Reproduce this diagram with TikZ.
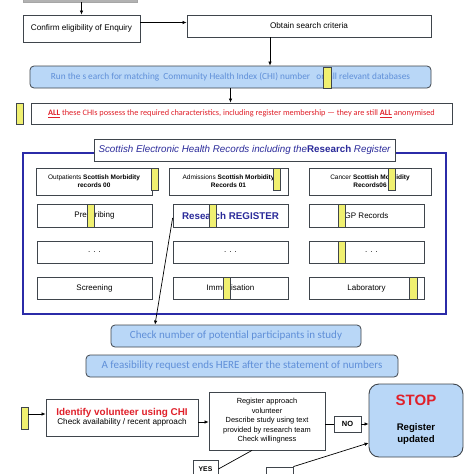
\documentclass[tikz,border=0pt]{standalone}
\usepackage{fontspec}
\setmainfont{Liberation Sans}
\newfontfamily\carl{Carlito}
\usetikzlibrary{arrows.meta}
\definecolor{boxline}{HTML}{3F454C}
\definecolor{lblue}{HTML}{B9D7F7}
\definecolor{tblue}{HTML}{5F8FD8}
\definecolor{fred}{HTML}{E0202A}
\definecolor{yel}{HTML}{F0F070}
\definecolor{frblue}{HTML}{2B2BA8}
\definecolor{tdblue}{HTML}{2A2A9A}
\tikzset{
  box/.style={draw=boxline, line width=0.8pt, fill=white, inner sep=1pt, align=center, font=\fontsize{8.2}{9.5}\selectfont},
  rbox/.style={draw=boxline, line width=0.8pt, fill=lblue, rounded corners=4pt, inner sep=1pt, align=center, text=tblue, font=\carl\fontsize{11}{12}\selectfont},
  cell/.style={draw=boxline, line width=0.8pt, fill=white, inner sep=1pt, align=center, font=\fontsize{8}{9.5}\selectfont},
  ymark/.style={draw=boxline, line width=0.7pt, fill=yel, inner sep=0pt, minimum width=7pt},
  arr/.style={draw=black, line width=0.7pt, -{Latex[length=4pt,width=3.5pt]}},
  ln/.style={draw=black, line width=0.7pt},
}
\begin{document}
\begin{tikzpicture}[x=1pt,y=-1pt]
\useasboundingbox (0,0) rectangle (474,474);
\clip (0,0) rectangle (474,474);
\fill[white] (0,0) rectangle (474,474);
% top section
\node[draw=gray!70, fill=gray!60, minimum width=114pt, minimum height=12pt] (top) at (80,-4) {};
\node[box, minimum width=117pt, minimum height=27pt] (confirm) at (81.5,28.5) {Confirm eligibility of Enquiry};
\node[box, minimum width=244pt, minimum height=22pt] (obtain) at (309,26) {Obtain search criteria};
\draw[arr] (top.south -| confirm.north) -- (confirm.north);
\coordinate (c1) at ([yshift=6pt]confirm.east);
\draw[arr] (c1) -- (c1 -| obtain.west);
\node[rbox, minimum width=401pt, minimum height=22pt, font=\carl\fontsize{9.3}{10}\selectfont] (run) at (230.5,77) {Run the s earch for matching\ \ Community Health Index (CHI) number\ \ \ on all relevant databases};
\node[ymark, minimum width=8pt, minimum height=21pt] (y0) at (327,77.5) {};
\coordinate (c2) at ([xshift=-39pt]obtain.south);
\draw[arr] (c2) -- (c2 |- run.north);
\node[box, minimum width=421pt, minimum height=21pt, text=fred, font=\carl\fontsize{8.3}{9}\selectfont] (all) at (241.5,113.5) {\textbf{\underline{ALL}} these CHIs possess the required characteristics, including register membership — they are still \textbf{\underline{ALL}} anonymised};
\node[ymark, minimum height=21pt] (y1) at (19.5,113.5) {};
\draw[arr] (run.south) -- (run.south |- all.north);
% frame
\node[draw=frblue, line width=1.3pt, minimum width=423pt, minimum height=161pt] (frame) at (234.5,233.5) {};
\node[box, minimum width=301pt, minimum height=22pt, text=tdblue, font=\fontsize{9.8}{11}\selectfont] (title) at (244.5,150) {\itshape Scottish Electronic Health Records including the\textbf{\upshape Research}\itshape\ Register};
% row 1
\node[cell, minimum width=116pt, minimum height=27pt, font=\fontsize{6.5}{8}\selectfont] (a1) at (94,181.5) {Outpatients \textbf{Scottish Morbidity}\\\textbf{records 00}};
\node[cell, minimum width=119pt, minimum height=27pt, font=\fontsize{6.5}{8}\selectfont] (b1) at (228.5,181.5) {Admissions \textbf{Scottish Morbidity}\\\textbf{Records 01}};
\node[cell, minimum width=122pt, minimum height=27pt, font=\fontsize{6.5}{8}\selectfont] (c1b) at (370,181.5) {Cancer \textbf{Scottish Morbidity}\\\textbf{Records06}};
\node[ymark, minimum height=22pt] (ya1) at (155,179) {};
\node[ymark, minimum height=22pt] (yb1) at (276.5,179) {};
\node[ymark, minimum height=22pt] (yc1) at (391.5,179) {};
% row 2
\node[cell, minimum width=115pt, minimum height=23pt] (a2) at (94.5,215.5) {Prescribing};
\node[cell, minimum width=115pt, minimum height=23pt, text=tdblue, font=\bfseries\fontsize{9.8}{11}\selectfont] (reg) at (230.5,215.5) {Research REGISTER};
\node[cell, minimum width=115pt, minimum height=23pt] (c2b) at (366.5,215.5) {GP Records};
\node[ymark, minimum height=23pt] (ya2) at (90.5,215.5) {};
\node[ymark, minimum height=23pt] (yb2) at (212.5,215.5) {};
\node[ymark, minimum height=23pt] (yc2) at (341.5,215.5) {};
% row 3
\node[cell, minimum width=115pt, minimum height=22pt] (a3) at (94.5,252) {. . .};
\node[cell, minimum width=115pt, minimum height=22pt] (b3) at (230.5,252) {. . .};
\node[cell, minimum width=115pt, minimum height=22pt] (c3b) at (366.5,252) {\hspace{10pt}. . .};
\node[ymark, minimum height=22pt] (yc3) at (341.5,252) {};
% row 4
\node[cell, minimum width=115pt, minimum height=22pt] (a4) at (94.5,288) {Screening};
\node[cell, minimum width=115pt, minimum height=22pt] (b4) at (230.5,288) {Immunisation};
\node[cell, minimum width=115pt, minimum height=22pt] (c4b) at (366.5,288) {Laboratory};
\node[ymark, minimum height=22pt] (yb4) at (226.5,288) {};
\node[ymark, minimum width=8pt, minimum height=22pt] (yc4) at (413,288) {};
% check
\node[rbox, minimum width=250pt, minimum height=22pt] (check) at (236,336) {Check number of potential participants in study};
\node[rbox, minimum width=312pt, minimum height=22pt] (feas) at (242,366) {A feasibility request ends HERE after the statement of numbers};
\coordinate (c3) at ([yshift=-2.5pt]reg.west);
\coordinate (c4) at ([xshift=-81pt]check.north);
\draw[arr] (c3) -- (c4);
% bottom
\node[ymark, minimum height=22pt] (ym) at (24.5,418) {};
\node[box, minimum width=152pt, minimum height=37pt, font=\fontsize{8.2}{9.5}\selectfont] (ident) at (122,417.5) {{\color{fred}\bfseries\fontsize{9.9}{11}\selectfont Identify volunteer using CHI}\\Check availability / recent approach};
\coordinate (c5) at ([yshift=4pt]ym.east);
\draw[arr] (c5) -- (c5 -| ident.west);
\node[box, minimum width=116pt, minimum height=58pt, font=\fontsize{7.4}{9.5}\selectfont] (regap) at (267,421) {Register approach\\volunteer\\Describe study using text\\provided by research team\\Check willingness};
\coordinate (c6) at ([yshift=-4.5pt]ident.east);
\draw[arr] (c6) -- (c6 -| regap.west);
\node[box, minimum width=27pt, minimum height=16pt, font=\fontsize{7.5}{8}\selectfont\bfseries] (no) at (347.5,424) {NO};
\node[draw=boxline, line width=0.9pt, fill=lblue, rounded corners=10pt, minimum width=94pt, minimum height=73pt, align=center] (stop) at (416,420.5) {};
\node[text=fred, font=\bfseries\fontsize{15}{17}\selectfont] (stoptxt) at (416,400) {STOP};
\node[align=center, font=\bfseries\fontsize{9.6}{12.5}\selectfont] (updtxt) at (416,434) {Register\\updated};
\draw[ln] (no.west -| regap.east) -- (no.west);
\draw[arr] (no.east) -- (no.east -| stop.west);
\node[box, minimum width=25pt, minimum height=18pt, font=\fontsize{6.8}{8}\selectfont\bfseries] (yes) at (205.5,469) {YES};
\coordinate (c7) at ([xshift=-15pt]regap.south);
\draw[ln] (yes.east) -- (c7);
\node[box, minimum width=27pt, minimum height=18pt] (other) at (279.5,476) {};
\coordinate (c8) at ([yshift=-22.5pt]stop.west);
\draw[arr] (other.north east) -- (c8);
\end{tikzpicture}
\end{document}
